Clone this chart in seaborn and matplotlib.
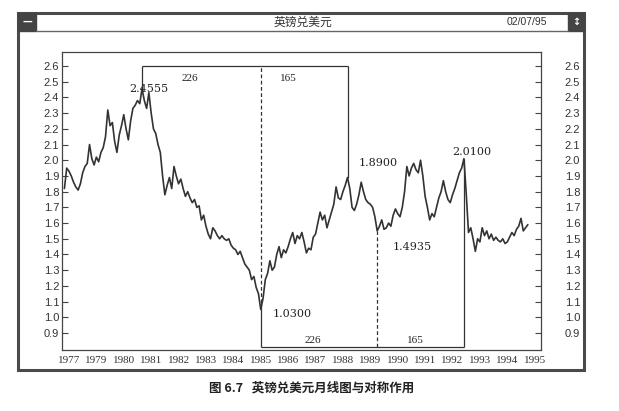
import matplotlib
matplotlib.use('Agg')
import numpy as np
import pandas as pd
import matplotlib.pyplot as plt
import matplotlib.transforms as mtransforms
from matplotlib.patches import Rectangle
from matplotlib.lines import Line2D
import seaborn as sns

# ---- data (monthly, Nov 1977 .. Oct 1994) ----
start_year = 1977 + 10 / 12
gbp_usd = [
    # 1977 Nov-Dec
    1.82, 1.95,
    # 1978
    1.93, 1.90, 1.86, 1.83, 1.81, 1.85, 1.92, 1.96, 1.98, 2.10, 2.01, 1.97,
    # 1979
    2.02, 1.99, 2.05, 2.08, 2.15, 2.32, 2.22, 2.24, 2.12, 2.05, 2.16, 2.22,
    # 1980
    2.29, 2.20, 2.13, 2.25, 2.33, 2.35, 2.38, 2.36, 2.4555, 2.38, 2.33, 2.43,
    # 1981
    2.30, 2.20, 2.17, 2.10, 2.05, 1.90, 1.78, 1.84, 1.89, 1.82, 1.96, 1.90,
    # 1982
    1.85, 1.88, 1.82, 1.77, 1.80, 1.76, 1.73, 1.75, 1.70, 1.71, 1.62, 1.65,
    # 1983
    1.58, 1.53, 1.50, 1.57, 1.55, 1.52, 1.50, 1.52, 1.50, 1.49, 1.50, 1.46,
    # 1984
    1.44, 1.43, 1.40, 1.42, 1.38, 1.34, 1.32, 1.30, 1.24, 1.26, 1.19, 1.15,
    # 1985
    1.05, 1.12, 1.24, 1.28, 1.36, 1.30, 1.32, 1.40, 1.45, 1.38, 1.43, 1.41,
    # 1986
    1.45, 1.50, 1.54, 1.47, 1.52, 1.50, 1.54, 1.48, 1.41, 1.44, 1.43, 1.51,
    # 1987
    1.53, 1.60, 1.67, 1.62, 1.65, 1.57, 1.62, 1.67, 1.72, 1.83, 1.76, 1.75,
    # 1988
    1.80, 1.84, 1.89, 1.82, 1.70, 1.68, 1.72, 1.78, 1.86, 1.80, 1.75, 1.73,
    # 1989
    1.72, 1.70, 1.64, 1.55, 1.58, 1.62, 1.56, 1.57, 1.60, 1.58, 1.65, 1.69,
    # 1990
    1.66, 1.64, 1.70, 1.80, 1.96, 1.90, 1.95, 1.98, 1.94, 1.92, 2.00, 1.90,
    # 1991
    1.77, 1.70, 1.62, 1.66, 1.64, 1.70, 1.76, 1.80, 1.87, 1.80, 1.75, 1.73,
    # 1992
    1.78, 1.82, 1.87, 1.92, 1.95, 2.01, 1.79, 1.54, 1.57, 1.50, 1.42, 1.50,
    # 1993
    1.48, 1.57, 1.52, 1.55, 1.50, 1.53, 1.49, 1.51, 1.49, 1.48, 1.50, 1.47,
    # 1994
    1.48, 1.51, 1.54, 1.52, 1.56, 1.58, 1.63, 1.55, 1.57, 1.59,
]

tick_years = list(range(1978, 1996))
tick_labels = ["1977"] + [str(y) for y in range(1979, 1996)]
y_ticks = [round(0.9 + 0.1 * i, 1) for i in range(18)]

point_labels = ["2.4555", "1.0300", "1.8900", "1.4935", "2.0100"]
week_counts = ["226", "165", "226", "165"]
week_label_x = [1982.42, 1986.0, 1986.9, 1990.63]
week_label_y = [2.52, 2.52, 0.855, 0.855]

box_top = 2.6
box_bottom = 0.81

title_text = "英镑兑美元"
date_text = "02/07/95"
caption = "图 6.7   英镑兑美元月线图与对称作用"

W, H = 619, 411


def fx(px):
    return px / W


def fy(py):
    return 1 - py / H


def main():
    sns.set_style("white")
    plt.rcParams['font.family'] = ['DejaVu Sans', 'Noto Sans CJK SC']

    dates = start_year + np.arange(len(gbp_usd)) / 12
    df = pd.DataFrame({'date': dates, 'rate': gbp_usd})
    s = pd.Series(gbp_usd, index=dates)

    fig = plt.figure(figsize=(W / 100, H / 100), dpi=100)
    fig.patch.set_facecolor('white')

    # window frame and title bar
    fig.add_artist(Rectangle((fx(18), fy(370)), fx(584) - fx(18), fy(13) - fy(370),
                             transform=fig.transFigure, fill=False, lw=2.2, ec='#4a4a4a'))
    fig.add_artist(Line2D([fx(36), fx(568)], [fy(31), fy(31)],
                          transform=fig.transFigure, lw=1.0, color='#666666'))
    fig.add_artist(Rectangle((fx(18), fy(31)), fx(36) - fx(18), fy(13) - fy(31),
                             transform=fig.transFigure, fc='#444444', ec='#444444'))
    fig.add_artist(Rectangle((fx(568), fy(31)), fx(584) - fx(568), fy(13) - fy(31),
                             transform=fig.transFigure, fc='#444444', ec='#444444'))
    fig.text(fx(27), fy(22), "—", color='white', fontsize=7, ha='center', va='center',
             fontweight='bold')
    fig.text(fx(576), fy(22), "↕", color='white', fontsize=7, ha='center', va='center',
             fontweight='bold')
    fig.text(fx(303), fy(22), title_text, fontsize=8.5, ha='center', va='center',
             color='#333333', family=['Noto Sans CJK SC', 'DejaVu Sans'])
    fig.text(fx(527), fy(22), date_text, fontsize=7.5, ha='center', va='center',
             color='#333333', family='Liberation Sans')

    ax = fig.add_axes([fx(62), fy(350), fx(541) - fx(62), fy(52) - fy(350)])
    sns.lineplot(data=df, x='date', y='rate', ax=ax, color='#333333', lw=1.2)

    ax.set_xlim(1977.745, 1995.23)
    ax.set_ylim(0.792, 2.689)
    ax.set_xlabel('')
    ax.set_ylabel('')

    # symmetry box between the turning points
    peak1 = s.idxmax()
    low1 = s.idxmin()
    peak2 = s.loc[1987.5:1989.0].idxmax()
    low2 = s.loc[1989.0:1990.0].idxmin()
    peak3 = s.loc[1991.5:1993.0].idxmax()

    lc = '#333333'
    dash = (0, (3, 2))
    ax.hlines(box_top, peak1, peak2, colors=lc, lw=0.9)
    ax.vlines(peak1, s.loc[peak1], box_top, colors=lc, lw=0.9)
    ax.vlines(low1, s.loc[low1], box_top, colors=lc, lw=0.9, linestyles=dash)
    ax.vlines(peak2, s.loc[peak2], box_top, colors=lc, lw=0.9)
    ax.hlines(box_bottom, low1, peak3, colors=lc, lw=0.9)
    ax.vlines(low1, box_bottom, s.loc[low1], colors=lc, lw=0.9)
    ax.vlines(low2, box_bottom, s.loc[low2], colors=lc, lw=0.9, linestyles=dash)
    ax.vlines(peak3, box_bottom, s.loc[peak3], colors=lc, lw=0.9)

    # turning point labels
    turns = [peak1, low1, peak2, low2, peak3]
    offsets = [(5, 0), (8.6, -3), (7.9, 10.8), (10.8, -11.5), (-8.6, 5)]
    aligns = ['center', 'left', 'left', 'left', 'left']
    for t, lab, off, ha in zip(turns, point_labels, offsets, aligns):
        ax.annotate(lab, (t, s.loc[t]), xytext=off, textcoords='offset points',
                    ha=ha, va='center', fontsize=8, family='DejaVu Serif',
                    color='#222222')

    for lab, x, y in zip(week_counts, week_label_x, week_label_y):
        ax.text(x, y, lab, ha='center', va='center', fontsize=8,
                family='Liberation Serif', color='#222222')

    # axes styling
    for sp in ax.spines.values():
        sp.set_color('#444444')
        sp.set_linewidth(0.9)

    ax.set_yticks(y_ticks)
    ax.set_yticklabels([f"{v:.1f}" for v in y_ticks])
    ax.tick_params(axis='y', direction='in', length=4, width=0.8, pad=2,
                   left=True, right=True, labelleft=True, labelright=True,
                   colors='#444444', labelcolor='#333333', labelsize=8)
    # right labels sit well away from the frame
    shift = mtransforms.ScaledTranslation(15 / 72, 0, fig.dpi_scale_trans)
    for t in ax.yaxis.get_major_ticks():
        t.label1.set_fontfamily('Liberation Sans')
        t.label2.set_fontfamily('Liberation Sans')
        t.label2.set_transform(t.label2.get_transform() + shift)

    ax.set_xticks(tick_years)
    ax.set_xticklabels(tick_labels, family='Liberation Serif', fontsize=8,
                       color='#333333')
    ax.tick_params(axis='x', direction='in', length=3, width=0.8, pad=4,
                   colors='#444444', labelcolor='#333333')

    fig.text(fx(312), fy(388), caption, fontsize=9, ha='center', va='center',
             fontweight='bold', color='#222222',
             family=['Noto Sans CJK SC', 'DejaVu Sans'])

    fig.savefig('out.png', dpi=100, facecolor='white')


if __name__ == "__main__":
    main()
